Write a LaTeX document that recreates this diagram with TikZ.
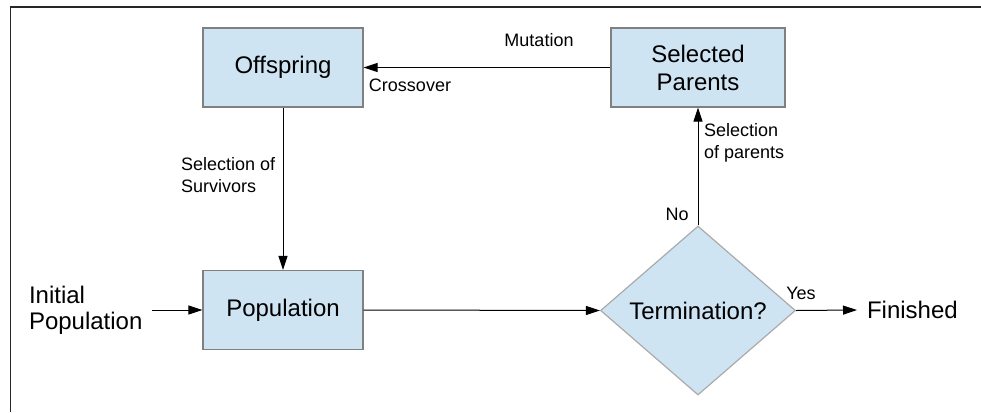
\documentclass[tikz,border=0pt]{standalone}
\usepackage{fontspec}
\setmainfont{Liberation Sans}
\usetikzlibrary{shapes.geometric,arrows.meta}

\definecolor{boxfill}{RGB}{207,228,242}
\definecolor{boxline}{RGB}{128,128,128}
\definecolor{diamline}{RGB}{170,170,170}

\tikzset{
  stage/.style={rectangle, draw=boxline, line width=1.2pt, fill=boxfill,
    minimum width=160pt, minimum height=79pt, align=center,
    font=\fontsize{24}{28}\selectfont},
  decision/.style={diamond, draw=diamline, line width=1.2pt, fill=boxfill,
    minimum width=195pt, minimum height=169pt, inner sep=0pt,
    font=\fontsize{24}{28}\selectfont},
  plain/.style={inner sep=0pt, font=\fontsize{24}{28}\selectfont},
  lbl/.style={inner sep=0pt, font=\fontsize{18}{22}\selectfont},
  arr/.style={-{Triangle[length=14pt,width=9pt]}, line width=1pt}
}

\begin{document}
\begin{tikzpicture}[x=1pt,y=-1pt]
                        \useasboundingbox (0,0) rectangle (981,412);
                        % Frame
                        \draw[line width=1.5pt, black!85] (10.5,412) -- (10.5,7) -- (981,7);

                        % Nodes
                        \node[stage] (offspring) at (283,67.5) {Offspring};
                        \node[stage, minimum width=174pt] (parents) at (698,67.5) {Selected\\Parents};
                        \node[stage] (population) at (283,310) {Population};
                        \node[decision] (termination) at (698,310.5) {Termination?};
                        \node[plain, anchor=west, align=left, outer xsep=10pt,
                              font=\fontsize{24}{26}\selectfont] (initial) at (19,310) {Initial\\Population};
                        \node[plain, anchor=west, outer xsep=10pt] (finished) at (857,310) {Finished};

                        % Labels
                        \node[lbl] (mutation) at (539,40) {Mutation};
                        \node[lbl] (crossover) at (410,85) {Crossover};
                        \node[lbl, anchor=north west, align=left] (survivors) at (181,157) {Selection of\\Survivors};
                        \node[lbl, anchor=north west, align=left] (selpar) at (704,123) {Selection\\of parents};
                        \node[lbl] (no) at (677,214) {No};
                        \node[lbl] (yes) at (801,293) {Yes};

                        % Edges
                        \draw[arr] (initial.east) -- (population.west);
                        \draw[arr] (population.east) -- (termination.west);
                        \draw[arr] (termination.east) -- (finished.west);
                        \draw[arr] (termination.north) -- (parents.south);
                        \draw[arr] (parents.west) -- (offspring.east);
                        \draw[arr] (offspring.south) -- (population.north);
                    \end{tikzpicture}
\end{document}
